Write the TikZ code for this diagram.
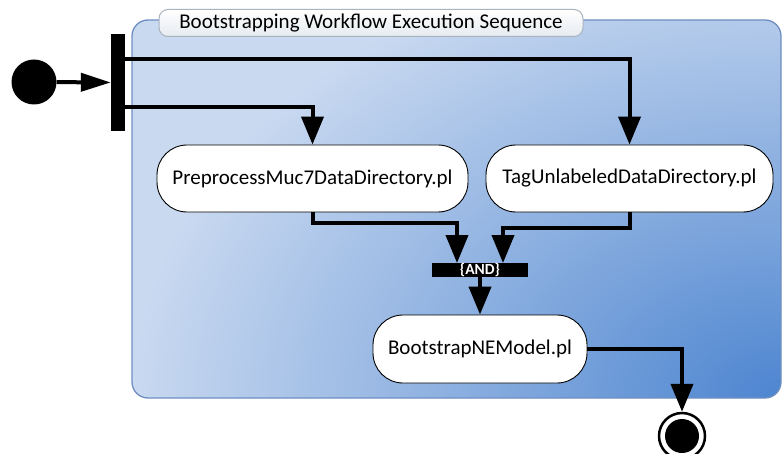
\documentclass[tikz,border=0pt]{standalone}
\usepackage{fontspec}
\setmainfont{Carlito}
\usetikzlibrary{arrows.meta}
\definecolor{cLight}{HTML}{C9D9F0}
\definecolor{cDark}{HTML}{4D85D0}
\definecolor{cBorder}{HTML}{6E8EC2}
\definecolor{tabBorder}{HTML}{A9B3BE}
\definecolor{tabBottom}{HTML}{E6EBF0}
\begin{document}
\begin{tikzpicture}[x=1pt,y=-1pt,
  act/.style={draw=black, fill=white, rounded corners=30pt, line width=0.9pt,
    font=\fontsize{21}{24}\selectfont, inner sep=0pt},
  conn/.style={line width=4pt, -{Triangle[length=28pt,width=22pt]}},
  bar/.style={fill=black, inner sep=0pt}]
\useasboundingbox (0,0) rectangle (783,454);
% container
\begin{scope}
  \clip[rounded corners=16pt] (132,20) rectangle (781,398);
  \fill[cLight] (132,20) rectangle (781,398);
  \shade[inner color=cDark, outer color=cLight] (781,398) ellipse [x radius=650pt, y radius=460pt];
\end{scope}
\draw[cBorder, line width=1.3pt, rounded corners=16pt] (132,20) rectangle (781,398);
% title tab
\node[draw=tabBorder, line width=1pt, top color=white, bottom color=tabBottom,
  rounded corners=9pt, minimum width=424pt, minimum height=27pt, inner sep=0pt,
  font=\fontsize{21}{24}\selectfont] (title) at (371,23) {Bootstrapping Workflow Execution Sequence};
% start and fork
\node[circle, fill=black, minimum size=45pt, inner sep=0pt] (start) at (34,82) {};
\node[bar, minimum width=14pt, minimum height=97pt] (fork) at (118,82.5) {};
% activities
\node[act, minimum width=311pt, minimum height=67pt] (pre) at (312.5,178.5) {PreprocessMuc7DataDirectory.pl};
\node[act, minimum width=287pt, minimum height=67pt] (tag) at (629.5,178.5) {TagUnlabeledDataDirectory.pl};
\node[bar, minimum width=96pt, minimum height=12pt, text=white,
  font=\bfseries\fontsize{15.5}{15.5}\selectfont] (and) at (480,270) {\{AND\}};
\node[act, minimum width=214pt, minimum height=68pt] (boot) at (480,349) {BootstrapNEModel.pl};
% final
\node[circle, draw=black, line width=2.5pt, fill=white, minimum size=46pt, inner sep=0pt] (final) at (682,436) {};
\fill[black] (final.center) circle (17pt);
% connectors
\draw[line width=4pt, -{Triangle[length=30pt,width=18pt]}] (start) -- (fork);
\draw[conn] ([yshift=23.5pt]fork.east) -| (tag.north);
\draw[conn] ([yshift=-24.5pt]fork.east) -| (pre.north);
\draw[conn] (pre.south) -- ++(0,11) -| ([xshift=-23pt]and.north);
\draw[conn] (tag.south) -- ++(0,16) -| ([xshift=23pt]and.north);
\draw[conn] (and) -- (boot);
\draw[conn] (boot.east) -| (final.north);
\end{tikzpicture}
\end{document}
